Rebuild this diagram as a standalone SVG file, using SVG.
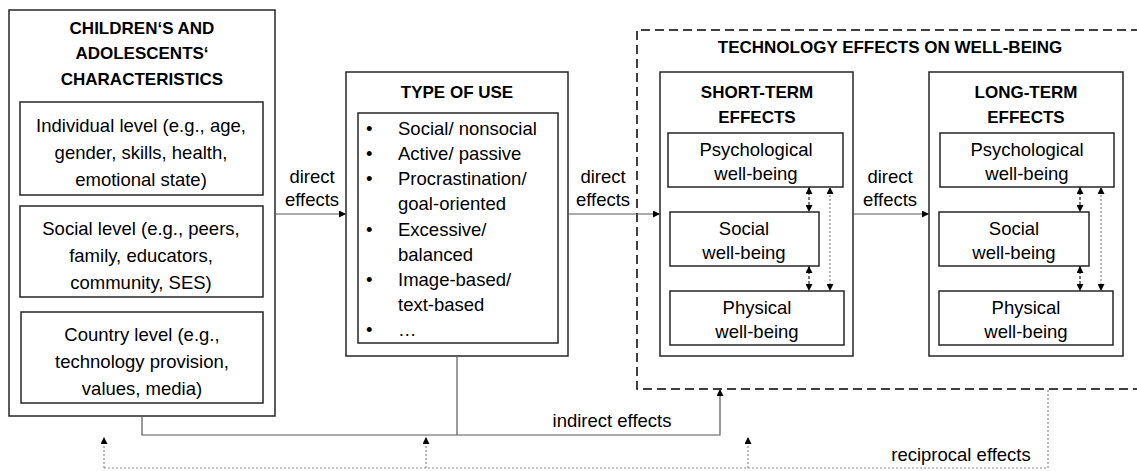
<svg xmlns="http://www.w3.org/2000/svg" width="1137" height="471" viewBox="0 0 1137 471">
<defs>
<style>
.box{fill:#fff;stroke:#262626;stroke-width:1.5}
.t{font-family:"Liberation Sans",Arial,sans-serif;font-size:18.5px;fill:#000;text-anchor:middle}
.b{font-weight:bold;font-size:17px}
.l{text-anchor:start}
.conn{fill:none;stroke:#595959;stroke-width:1.2}
.dash{fill:none;stroke:#000;stroke-width:1.5;stroke-dasharray:9 5}
.pd{fill:none;stroke:#262626;stroke-width:1.2;stroke-dasharray:3 2}
.dot{fill:none;stroke:#8c8c8c;stroke-width:1.2;stroke-dasharray:2 2}
</style>
<marker id="ah" viewBox="0 0 10 10" refX="10" refY="5" markerWidth="7" markerHeight="7" orient="auto-start-reverse" markerUnits="userSpaceOnUse">
<path d="M0,0 L10,5 L0,10 z" fill="#000"/>
</marker>
</defs>

<g id="tech-effects">
<path class="dash" d="M1140,30 H637 V389 H1140"/>
<text class="t b" x="890" y="53">TECHNOLOGY EFFECTS ON WELL-BEING</text>
</g>

<g id="characteristics">
<rect class="box" x="9" y="10" width="266" height="406"/>
<text class="t b" x="142" y="34">CHILDREN‘S AND</text>
<text class="t b" x="142" y="59">ADOLESCENTS‘</text>
<text class="t b" x="142" y="85">CHARACTERISTICS</text>
</g>
<g id="individual">
<rect class="box" x="20" y="102" width="243" height="93"/>
<text class="t" x="141" y="132">Individual level (e.g., age,</text>
<text class="t" x="141" y="159">gender, skills, health,</text>
<text class="t" x="141" y="186">emotional state)</text>
</g>
<g id="social-level">
<rect class="box" x="20" y="206" width="243" height="91"/>
<text class="t" x="141" y="235">Social level (e.g., peers,</text>
<text class="t" x="141" y="262">family, educators,</text>
<text class="t" x="141" y="289">community, SES)</text>
</g>
<g id="country">
<rect class="box" x="21" y="312" width="242" height="91"/>
<text class="t" x="142" y="341">Country level (e.g.,</text>
<text class="t" x="142" y="368">technology provision,</text>
<text class="t" x="142" y="395">values, media)</text>
</g>

<g id="type-of-use">
<rect class="box" x="346" y="72" width="222" height="284"/>
<text class="t b" x="457" y="98">TYPE OF USE</text>
<rect class="box" x="358" y="113" width="200" height="230"/>
<g class="t l">
<text x="366" y="135">•</text><text x="398" y="135">Social/ nonsocial</text>
<text x="366" y="160">•</text><text x="398" y="160">Active/ passive</text>
<text x="366" y="185">•</text><text x="398" y="185">Procrastination/</text>
<text x="398" y="210">goal-oriented</text>
<text x="366" y="236">•</text><text x="398" y="236">Excessive/</text>
<text x="398" y="261">balanced</text>
<text x="366" y="286">•</text><text x="398" y="286">Image-based/</text>
<text x="398" y="311">text-based</text>
<text x="366" y="336">•</text><text x="398" y="336">…</text>
</g>
</g>

<g id="short-term">
<rect class="box" x="660" y="72" width="193" height="284"/>
<text class="t b" x="757" y="98">SHORT-TERM</text>
<text class="t b" x="757" y="123">EFFECTS</text>
</g>
<g id="st-psych">
<rect class="box" x="668" y="133" width="175" height="54"/>
<text class="t" x="756" y="156">Psychological</text>
<text class="t" x="756" y="180">well-being</text>
</g>
<g id="st-social">
<rect class="box" x="670" y="212" width="149" height="54"/>
<text class="t" x="744" y="235">Social</text>
<text class="t" x="744" y="259">well-being</text>
</g>
<g id="st-physical">
<rect class="box" x="670" y="291" width="174" height="54"/>
<text class="t" x="757" y="314">Physical</text>
<text class="t" x="757" y="338">well-being</text>
</g>

<g id="long-term">
<rect class="box" x="929" y="72" width="194" height="284"/>
<text class="t b" x="1026" y="98">LONG-TERM</text>
<text class="t b" x="1026" y="123">EFFECTS</text>
</g>
<g id="lt-psych">
<rect class="box" x="940" y="133" width="174" height="54"/>
<text class="t" x="1027" y="156">Psychological</text>
<text class="t" x="1027" y="180">well-being</text>
</g>
<g id="lt-social">
<rect class="box" x="939" y="212" width="150" height="54"/>
<text class="t" x="1014" y="235">Social</text>
<text class="t" x="1014" y="259">well-being</text>
</g>
<g id="lt-physical">
<rect class="box" x="939" y="291" width="174" height="54"/>
<text class="t" x="1026" y="314">Physical</text>
<text class="t" x="1026" y="338">well-being</text>
</g>

<g id="connectors">
<path class="conn" d="M275,214 H346" marker-end="url(#ah)"/>
<path class="conn" d="M568,214 H660" marker-end="url(#ah)"/>
<path class="conn" d="M853,214 H929" marker-end="url(#ah)"/>
<path class="pd" d="M809,187 V212" marker-start="url(#ah)" marker-end="url(#ah)"/>
<path class="pd" d="M809,266 V291" marker-start="url(#ah)" marker-end="url(#ah)"/>
<path class="dot" d="M830,187 V291" marker-start="url(#ah)" marker-end="url(#ah)"/>
<path class="pd" d="M1080,187 V212" marker-start="url(#ah)" marker-end="url(#ah)"/>
<path class="pd" d="M1080,266 V291" marker-start="url(#ah)" marker-end="url(#ah)"/>
<path class="dot" d="M1101,187 V291" marker-start="url(#ah)" marker-end="url(#ah)"/>
<path class="conn" d="M142,416 V435 H720 V389" marker-end="url(#ah)"/>
<path class="conn" d="M457,356 V435"/>
<path class="dot" d="M104,468 H1048 V389"/>
<path class="dot" d="M104,468 V437" marker-end="url(#ah)"/>
<path class="dot" d="M426,468 V437" marker-end="url(#ah)"/>
<path class="dot" d="M748,468 V437" marker-end="url(#ah)"/>
<g class="t">
<text x="312" y="183">direct</text>
<text x="312" y="206">effects</text>
<text x="603" y="183">direct</text>
<text x="603" y="206">effects</text>
<text x="890" y="183">direct</text>
<text x="890" y="206">effects</text>
<text x="612" y="427">indirect effects</text>
<text x="961" y="461">reciprocal effects</text>
</g>
</g>
</svg>
